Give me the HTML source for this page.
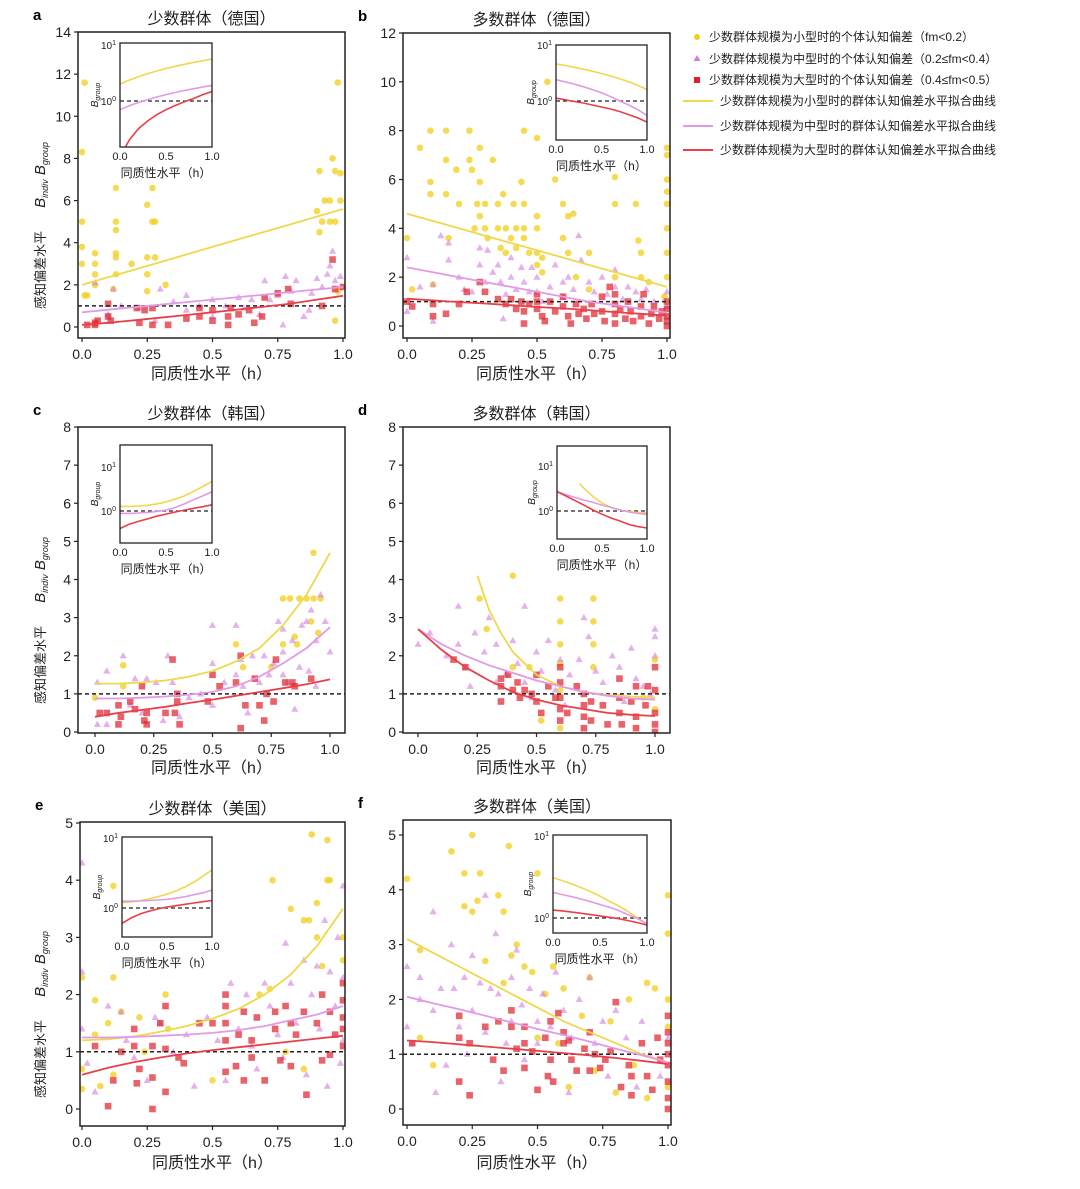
<!DOCTYPE html>
<html><head><meta charset="utf-8">
<style>
body{margin:0;background:#fff;}
svg{display:block;font-family:"Liberation Sans","Noto Sans CJK SC",sans-serif;}
</style></head>
<body>
<svg id="fig" width="1080" height="1189" viewBox="0 0 1080 1189" xmlns="http://www.w3.org/2000/svg">
<g id="legend" font-size="12" fill="#222">
  <g><circle cx="697" cy="37" r="3" fill="#f2cf1a"/><text x="709" y="41">少数群体规模为小型时的个体认知偏差（fm&lt;0.2）</text></g>
  <g><polygon points="697,55 700.5,61 693.5,61" fill="#d27fdc"/><text x="709" y="63">少数群体规模为中型时的个体认知偏差（0.2≤fm&lt;0.4）</text></g>
  <g><rect x="694" y="77" width="6" height="6" fill="#e0202a"/><text x="709" y="84">少数群体规模为大型时的个体认知偏差（0.4≤fm&lt;0.5）</text></g>
  <g><line x1="683" y1="101" x2="713" y2="101" stroke="#f0d84a" stroke-width="2"/><text x="720" y="105">少数群体规模为小型时的群体认知偏差水平拟合曲线</text></g>
  <g><line x1="683" y1="126" x2="713" y2="126" stroke="#e29ae6" stroke-width="2"/><text x="720" y="130">少数群体规模为中型时的群体认知偏差水平拟合曲线</text></g>
  <g><line x1="683" y1="150" x2="713" y2="150" stroke="#e8404a" stroke-width="2"/><text x="720" y="154">少数群体规模为大型时的群体认知偏差水平拟合曲线</text></g>
</g>
</svg>
<script>
// ---------- DATA ----------
const xTickLabels = ["0.0","0.25","0.5","0.75","1.0"];
const xTickVals = [0,0.25,0.5,0.75,1];
const hGrid = [0,0.1,0.2,0.3,0.4,0.5,0.6,0.7,0.8,0.9,1.0];

const aYTicks = [0,2,4,6,8,10,12,14];
const bYTicks = [0,2,4,6,8,10,12];
const cYTicks = [0,1,2,3,4,5,6,7,8];
const dYTicks = [0,1,2,3,4,5,6,7,8];
const eYTicks = [0,1,2,3,4,5];
const fYTicks = [0,1,2,3,4,5];

const aFitYellow = [2.0,2.36,2.72,3.08,3.44,3.8,4.16,4.52,4.88,5.24,5.6];
const aFitPink = [0.7,0.82,0.94,1.06,1.18,1.3,1.42,1.54,1.66,1.78,1.9];
const aFitRed = [0.1,0.2,0.32,0.44,0.57,0.7,0.83,0.97,1.11,1.3,1.48];
const bFitYellow = [4.6,4.3,4.0,3.7,3.4,3.1,2.8,2.5,2.2,1.9,1.6];
const bFitPink = [2.4,2.2,2.0,1.8,1.6,1.4,1.2,1.0,0.85,0.7,0.55];
const bFitRed = [1.12,1.05,0.98,0.92,0.85,0.78,0.72,0.65,0.57,0.5,0.42];
const cFitYellow = [1.27,1.27,1.3,1.35,1.45,1.6,1.85,2.2,2.8,3.6,4.7];
const cFitPink = [0.88,0.88,0.9,0.93,0.98,1.05,1.2,1.45,1.8,2.2,2.75];
const cFitRed = [0.4,0.5,0.58,0.66,0.76,0.85,0.95,1.05,1.15,1.25,1.38];
const dFitYellowH = [0.25,0.3,0.35,0.4,0.5,0.6,0.7,0.8,0.9,1.0];
const dFitYellow = [4.1,3.2,2.6,2.1,1.5,1.2,1.05,0.97,0.93,0.9];
const dFitPink = [2.7,2.3,2.0,1.75,1.55,1.35,1.2,1.05,0.95,0.88,0.85];
const dFitRed = [2.7,2.15,1.7,1.35,1.05,0.85,0.7,0.6,0.5,0.45,0.42];
const eFitYellow = [1.2,1.22,1.27,1.35,1.45,1.58,1.75,2.0,2.35,2.85,3.5];
const eFitPink = [1.25,1.25,1.26,1.28,1.3,1.33,1.38,1.45,1.55,1.65,1.8];
const eFitRed = [0.6,0.72,0.82,0.9,0.97,1.03,1.08,1.13,1.18,1.23,1.28];
const fFitYellow = [3.1,2.85,2.6,2.35,2.1,1.85,1.6,1.4,1.2,1.0,0.85];
const fFitPink = [2.05,1.93,1.82,1.7,1.58,1.46,1.35,1.23,1.1,0.98,0.85];
const fFitRed = [1.25,1.22,1.18,1.14,1.1,1.06,1.02,0.98,0.93,0.88,0.82];

const aYellow = [[0,8.3],[0,5],[0,3.8],[0,3],[0.01,1.5],[0.02,1.5],[0.01,11.6],[0.05,3.5],[0.05,3],[0.05,2.5],[0.05,2],[0.13,6.6],[0.13,5],[0.13,4.6],[0.13,3.5],[0.13,3.3],[0.13,2.5],[0.12,1.8],[0.19,3],[0.25,5.8],[0.25,3.3],[0.25,2.5],[0.25,1.7],[0.27,6.6],[0.27,5],[0.28,5],[0.28,3.3],[0.32,2],[0.9,5.5],[0.91,7.4],[0.91,4.5],[0.93,6],[0.95,6],[0.96,8],[0.97,7.4],[0.98,11.6],[0.99,7.3],[0.95,5],[0.97,5],[0.99,6],[0.97,0.3],[0.98,1.7],[0.92,5]];
const aPink = [[0.05,2.1],[0.1,0.6],[0.12,1.8],[0.15,1],[0.22,0.9],[0.28,0.3],[0.3,1.8],[0.35,1.2],[0.4,1.5],[0.4,0.8],[0.45,1],[0.5,1.3],[0.5,0.5],[0.55,1],[0.6,1.4],[0.62,0.9],[0.65,1.3],[0.68,0.6],[0.7,2.2],[0.72,1.3],[0.75,1.5],[0.77,0.1],[0.78,2.4],[0.8,1.7],[0.82,2.2],[0.85,0.5],[0.88,1.6],[0.9,2.3],[0.92,1.9],[0.94,2.5],[0.95,2.9],[0.96,3.6],[0.97,2.2],[0.99,2.4],[0.87,0.8]];
const aRed = [[0.02,0.1],[0.05,0.2],[0.05,0.1],[0.06,0.3],[0.1,1.1],[0.1,0.5],[0.11,0.3],[0.21,0.9],[0.22,0.2],[0.24,0.8],[0.27,0.1],[0.27,0.9],[0.33,0.1],[0.4,0.4],[0.45,0.9],[0.45,0.5],[0.5,0.8],[0.5,0.3],[0.56,0.5],[0.56,0.1],[0.57,0.9],[0.6,0.6],[0.64,0.8],[0.66,0.2],[0.69,0.5],[0.7,1.4],[0.75,1.6],[0.79,1.8],[0.8,1.1],[0.92,1],[0.97,1.8],[1,1.9],[0.96,3.2]];

const bYellow = [[0,3.6],[0.02,1.5],[0.05,7.3],[0.09,8],[0.09,5.9],[0.09,5.4],[0.1,1.7],[0.15,8],[0.15,6.8],[0.15,5.4],[0.16,3.6],[0.19,6.4],[0.2,5],[0.24,8],[0.24,6.8],[0.25,6.4],[0.26,4],[0.27,5],[0.28,7.3],[0.28,5.9],[0.28,4.5],[0.3,5],[0.3,4],[0.31,3.6],[0.33,6.8],[0.35,5],[0.35,4],[0.36,3.2],[0.37,5.4],[0.38,4],[0.38,3],[0.4,3.6],[0.41,5],[0.42,4],[0.42,3.2],[0.44,5.9],[0.45,8],[0.45,5],[0.45,4],[0.45,3.6],[0.47,3],[0.5,7.7],[0.5,4.5],[0.5,4],[0.5,3],[0.5,2.5],[0.52,2.8],[0.52,2.2],[0.54,10],[0.57,6],[0.6,5],[0.6,3.6],[0.62,4.5],[0.62,3],[0.64,4.6],[0.65,2],[0.7,3],[0.7,1.5],[0.8,5],[0.8,6.1],[0.8,2],[0.88,5],[0.89,3.5],[0.9,3],[0.9,2],[0.93,1.8],[1,7.3],[1,7],[1,6],[1,5.5],[1,5],[1,4],[1,3],[1,2],[0.99,1.2]];
const bPink = [[0,2.8],[0,0.6],[0.05,1.6],[0.1,1.7],[0.1,0.2],[0.13,3.7],[0.16,3.4],[0.16,2.7],[0.2,2],[0.22,1.5],[0.25,1.4],[0.28,3.2],[0.28,2.5],[0.3,1.8],[0.31,3.1],[0.33,2.2],[0.35,2.5],[0.36,1.8],[0.37,0.3],[0.38,1.3],[0.4,2.8],[0.4,2],[0.42,1.5],[0.44,2.4],[0.45,1.8],[0.47,1.4],[0.48,2.4],[0.5,2],[0.5,1.4],[0.52,1],[0.55,1.6],[0.57,2.5],[0.6,1.8],[0.6,1.2],[0.62,2],[0.64,1.5],[0.66,3.7],[0.67,2.7],[0.7,1.8],[0.72,1.4],[0.75,2],[0.77,1.3],[0.8,2.3],[0.8,1.6],[0.83,1.1],[0.85,1.6],[0.88,1.4],[0.9,1.1],[0.92,1.5],[0.95,1],[1,1.4],[1,0.8]];
const bRed = [[0,1],[0.02,0.8],[0.1,0.9],[0.1,0.4],[0.15,0.5],[0.2,0.9],[0.23,1.4],[0.28,1.8],[0.3,1.4],[0.35,1.1],[0.38,0.9],[0.4,1.1],[0.42,0.7],[0.44,1],[0.45,0.1],[0.45,0.6],[0.47,0.9],[0.5,1.3],[0.5,1],[0.5,0.7],[0.52,0.4],[0.53,0.2],[0.55,1],[0.57,0.6],[0.6,1.2],[0.6,0.8],[0.62,0.4],[0.63,0.1],[0.65,0.9],[0.66,0.5],[0.68,0.7],[0.69,0.3],[0.71,0.9],[0.72,0.5],[0.75,1.2],[0.75,0.6],[0.76,0.2],[0.78,1.6],[0.8,1.3],[0.8,0.9],[0.8,0.5],[0.8,0.1],[0.82,0.7],[0.84,0.3],[0.85,1],[0.86,0.6],[0.87,0.2],[0.9,0.8],[0.9,0.4],[0.91,1.3],[0.93,0.1],[0.94,0.5],[0.95,0.8],[0.97,0.3],[0.98,0.6],[1,1],[1,0.7],[1,0.4],[1,0.2],[1,0]];

const cYellow = [[0,0.9],[0.12,1.75],[0.12,1.2],[0.6,2.3],[0.63,1.7],[0.75,1.7],[0.8,2.3],[0.8,3.5],[0.83,3.5],[0.85,2.5],[0.86,2.3],[0.87,3.5],[0.9,3.5],[0.93,4.7],[0.93,3.5],[0.95,2.6],[0.96,3.5],[0.92,2.9]];
const cPink = [[0.01,1.3],[0.01,0.2],[0.05,1.6],[0.05,0.2],[0.12,2],[0.15,0.7],[0.17,1.4],[0.2,0.5],[0.22,1.4],[0.26,1.3],[0.29,0.3],[0.31,2],[0.33,1.3],[0.36,0.4],[0.4,0.9],[0.45,1],[0.5,2.8],[0.5,1.8],[0.5,0.7],[0.55,1.3],[0.6,2.8],[0.6,1.5],[0.62,1.9],[0.63,1.2],[0.65,0.5],[0.67,2],[0.7,1.3],[0.72,2],[0.74,1.5],[0.76,1.8],[0.78,2.9],[0.8,2.7],[0.8,2.1],[0.8,1.5],[0.82,1.3],[0.84,2.4],[0.85,0.6],[0.87,1.7],[0.88,2.8],[0.9,2.9],[0.91,1.6],[0.92,3.2],[0.94,2.4],[0.96,3.6],[0.98,2.9],[1,2.1],[0.94,1.2]];
const cRed = [[0.02,0.5],[0.05,0.5],[0.1,0.7],[0.1,0.2],[0.11,0.4],[0.15,0.8],[0.17,0.6],[0.2,1.2],[0.21,0.3],[0.22,0.5],[0.22,0.2],[0.3,0.5],[0.33,1.9],[0.34,0.5],[0.35,0.8],[0.36,0.2],[0.35,1],[0.48,0.8],[0.5,1.5],[0.53,1.2],[0.6,1.3],[0.62,2],[0.62,0.1],[0.64,0.7],[0.68,1.4],[0.7,0.7],[0.72,0.3],[0.73,1],[0.76,0.8],[0.77,1.9],[0.81,1.3],[0.84,1.3],[0.85,1.2],[0.92,1.4]];

const dYellow = [[0.26,3.5],[0.29,2.7],[0.4,4.1],[0.4,1.7],[0.47,1.7],[0.52,0.3],[0.6,3.5],[0.6,2.9],[0.6,2.3],[0.6,1.8],[0.6,1.1],[0.6,0.1],[0.74,3.5],[0.74,2.9],[0.74,2.3],[0.74,1.7],[0.95,0.9],[1,0.6],[1,1.9]];
const dPink = [[0,2.3],[0.05,2.6],[0.12,2],[0.17,3.3],[0.17,2.3],[0.2,1.7],[0.22,1.2],[0.24,2.6],[0.28,2.1],[0.3,3],[0.33,2.3],[0.33,1.3],[0.37,1.5],[0.4,2.4],[0.42,1.8],[0.45,3.3],[0.45,1.3],[0.48,0.9],[0.5,2.1],[0.52,1.6],[0.55,2.4],[0.58,1.1],[0.6,1.9],[0.62,0.7],[0.64,1.5],[0.68,1.9],[0.7,3],[0.72,2.5],[0.75,1.6],[0.78,1.3],[0.82,2],[0.85,1.7],[0.87,0.8],[0.9,2.2],[0.92,1.4],[0.95,1.2],[0.98,1],[1,2.7],[1,2.5],[1,2]];
const dRed = [[0.15,1.9],[0.2,1.7],[0.35,1.4],[0.35,1.2],[0.35,0.8],[0.38,1.5],[0.4,1.1],[0.42,1.3],[0.43,0.9],[0.45,1.1],[0.48,1],[0.5,1.5],[0.5,0.8],[0.52,0.5],[0.55,1.2],[0.58,0.9],[0.6,1.7],[0.6,1.3],[0.6,0.9],[0.6,0.6],[0.6,0.3],[0.63,0.5],[0.67,1.2],[0.7,1],[0.7,0.7],[0.7,0.4],[0.7,0.1],[0.73,0.8],[0.73,0.3],[0.78,0.7],[0.8,0.2],[0.85,1.4],[0.85,0.9],[0.85,0.5],[0.86,0.2],[0.9,0.8],[0.92,1.2],[0.92,0.4],[0.92,0.1],[0.96,0.7],[0.97,1.2],[1,1.7],[1,1.1],[1,0.5],[1,0.2],[1,0]];

const eYellow = [[0,2.3],[0,0.7],[0,0.35],[0.05,1.9],[0.05,1.3],[0.07,0.4],[0.1,1.5],[0.12,2.3],[0.12,3.9],[0.12,0.6],[0.15,1.7],[0.22,1.6],[0.24,1],[0.32,2],[0.33,1.4],[0.5,0.5],[0.68,2],[0.72,2.1],[0.73,4],[0.78,1],[0.8,3.5],[0.85,3.3],[0.87,3.3],[0.88,4.8],[0.9,3.6],[0.9,3],[0.92,2.5],[0.94,4.7],[0.94,4],[0.95,4],[1,3],[1,2.6],[0.85,0.7]];
const ePink = [[0,4.3],[0,2.4],[0,1.4],[0.02,0.8],[0.05,0.3],[0.1,1.8],[0.15,1.7],[0.17,1.2],[0.2,0.9],[0.25,0.5],[0.28,1.6],[0.3,1.5],[0.35,1],[0.4,1.3],[0.43,0.4],[0.48,1.6],[0.52,1.2],[0.55,0.5],[0.57,2.2],[0.6,1.4],[0.63,2],[0.65,1.1],[0.67,0.7],[0.7,2.2],[0.72,1.8],[0.75,1.3],[0.77,0.9],[0.78,2.9],[0.8,2.2],[0.82,1.5],[0.85,2.6],[0.86,0.6],[0.88,2],[0.9,2.5],[0.91,1.4],[0.93,3.3],[0.94,0.4],[0.95,2.4],[0.97,1.8],[0.98,3],[1,3.9],[1,2.3],[1,1.2],[0.99,0.8]];
const eRed = [[0.05,1.1],[0.1,0.05],[0.12,0.5],[0.15,1],[0.2,1.4],[0.2,1.1],[0.21,0.45],[0.22,0.7],[0.27,1.1],[0.27,0.55],[0.27,0],[0.3,1.5],[0.32,1.8],[0.32,1.05],[0.32,0.3],[0.37,0.9],[0.39,0.8],[0.45,1.5],[0.5,1.5],[0.55,2],[0.55,1.8],[0.55,1.5],[0.55,1.2],[0.55,0.65],[0.59,0.75],[0.6,1.3],[0.62,1.7],[0.62,0.5],[0.65,1.2],[0.65,0.9],[0.67,1.6],[0.7,0.5],[0.74,1.7],[0.74,1.4],[0.76,0.85],[0.78,1.8],[0.8,1.5],[0.8,0.75],[0.82,1.3],[0.85,1.7],[0.86,0.25],[0.9,1.5],[0.92,2],[0.92,0.85],[0.95,1.7],[0.95,0.95],[0.97,1.3],[1,2.2],[1,1.9],[1,1.6],[1,1.4],[1,1.1]];

const fYellow = [[0,4.2],[0.05,2.9],[0.05,1.3],[0.1,0.8],[0.17,4.7],[0.22,4.3],[0.22,3.7],[0.25,5],[0.25,3.6],[0.27,3.8],[0.28,4.3],[0.3,2.7],[0.35,3.9],[0.37,3.6],[0.37,2.3],[0.39,4.8],[0.4,2.8],[0.42,3],[0.45,2.6],[0.48,2.5],[0.5,4.3],[0.5,1.3],[0.53,2.1],[0.56,2.6],[0.58,1.2],[0.6,2.2],[0.62,0.4],[0.67,1.7],[0.7,2.4],[0.72,0.7],[0.78,1.6],[0.8,0.3],[0.85,2],[0.87,0.8],[0.92,2.3],[0.95,2.2],[0.92,0.2],[1,3.9],[1,3.2],[1,2],[1,1.5],[1,0.4]];
const fPink = [[0,2.6],[0,1.5],[0.02,1.2],[0.05,2.4],[0.05,2],[0.1,3.6],[0.1,1.8],[0.11,0.3],[0.13,2.2],[0.15,0.8],[0.17,3],[0.18,2.2],[0.2,1.5],[0.22,2.4],[0.23,1],[0.25,2.8],[0.25,1.8],[0.28,2.3],[0.3,3.9],[0.3,1.4],[0.32,2.2],[0.34,3.2],[0.35,2.1],[0.36,0.5],[0.38,1.2],[0.4,2.4],[0.4,1.6],[0.42,2.9],[0.44,1.9],[0.45,0.9],[0.47,2.2],[0.5,1.6],[0.5,1.2],[0.52,2.1],[0.55,1.5],[0.57,2.5],[0.6,1.8],[0.62,0.3],[0.63,1.3],[0.66,2],[0.7,2.4],[0.72,1.2],[0.75,1.6],[0.77,0.6],[0.8,1.8],[0.84,1.3],[0.88,0.4],[0.9,1.6],[0.93,1],[0.97,0.6],[1,1.3]];
const fRed = [[0.02,1.2],[0.2,1.7],[0.2,1.3],[0.2,0.5],[0.24,1.2],[0.24,0.25],[0.3,1.5],[0.33,0.9],[0.35,1.6],[0.37,0.7],[0.4,1.8],[0.4,1.5],[0.42,1.1],[0.45,1.5],[0.45,1.2],[0.45,0.75],[0.48,1.05],[0.5,0.35],[0.53,1.3],[0.54,0.6],[0.55,1.6],[0.55,0.9],[0.56,0.5],[0.58,1.75],[0.6,1.4],[0.6,1.2],[0.62,1.25],[0.63,0.9],[0.65,0.7],[0.68,1.1],[0.7,1.4],[0.7,0.7],[0.72,1],[0.74,0.75],[0.76,0.9],[0.78,1.05],[0.8,1.95],[0.82,0.4],[0.85,0.8],[0.86,0.6],[0.86,0.25],[0.9,1.2],[0.92,0.6],[0.94,0.35],[0.96,1.3],[0.97,0.9],[1,1.7],[1,1.4],[1,1.2],[1,1],[1,0.8],[1,0.5],[1,0.2],[1,0]];

// ---------- LAYOUT ----------
const NS="http://www.w3.org/2000/svg";
const svg=document.getElementById('fig');
function mk(tag,attrs,parent){const e=document.createElementNS(NS,tag);for(const k in attrs)e.setAttribute(k,attrs[k]);(parent||svg).appendChild(e);return e;}
const COL={y:'#f2cf1a',p:'#d27fdc',r:'#e0202a'};
const LCOL={y:'#f0d84a',p:'#e29ae6',r:'#e8404a'};

const panels=[
 {id:'a',letter:'a',title:'少数群体（德国）',box:[78,32,345,338],x0:82,x1:343,yv0:0,yp0:327,yv1:14,yp1:32,yTicks:aYTicks,
  pts:[aYellow,aPink,aRed],fits:[[hGrid,aFitYellow],[hGrid,aFitPink],[hGrid,aFitRed]],ylab:true,xtY:379,
  inset:{box:[120,43,212,147],top:1.04,bot:-0.82,d1:45,d0:101}},
 {id:'b',letter:'b',title:'多数群体（德国）',box:[403,33,670,338],x0:407,x1:667,yv0:0,yp0:326,yv1:12,yp1:33,yTicks:bYTicks,
  pts:[bYellow,bPink,bRed],fits:[[hGrid,bFitYellow],[hGrid,bFitPink],[hGrid,bFitRed]],ylab:false,xtY:379,
  inset:{box:[556,45,647,140],top:1.0,bot:-0.7,d1:45,d0:101}},
 {id:'c',letter:'c',title:'少数群体（韩国）',box:[78,427,345,733],x0:95,x1:330,yv0:0,yp0:732,yv1:8,yp1:427,yTicks:cYTicks,
  pts:[cYellow,cPink,cRed],fits:[[hGrid,cFitYellow],[hGrid,cFitPink],[hGrid,cFitRed]],ylab:true,xtY:773,
  inset:{box:[120,445,212,543],top:1.5,bot:-0.73,d1:467,d0:511}},
 {id:'d',letter:'d',title:'多数群体（韩国）',box:[403,427,670,733],x0:418,x1:655,yv0:0,yp0:732,yv1:8,yp1:427,yTicks:dYTicks,
  pts:[dYellow,dPink,dRed],fits:[[dFitYellowH,dFitYellow],[hGrid,dFitPink],[hGrid,dFitRed]],ylab:false,xtY:773,
  inset:{box:[557,446,647,539],top:1.45,bot:-0.64,d1:466,d0:511}},
 {id:'e',letter:'e',title:'少数群体（美国）',box:[80,822,345,1126],x0:82,x1:343,yv0:0,yp0:1109,yv1:5,yp1:823,yTicks:eYTicks,
  pts:[eYellow,ePink,eRed],fits:[[hGrid,eFitYellow],[hGrid,eFitPink],[hGrid,eFitRed]],ylab:true,xtY:1168,
  inset:{box:[122,837,212,937],top:1.01,bot:-0.41,d1:838,d0:908}},
 {id:'f',letter:'f',title:'多数群体（美国）',box:[403,820,671,1125],x0:407,x1:668,yv0:0,yp0:1109,yv1:5,yp1:835,yTicks:fYTicks,
  pts:[fYellow,fPink,fRed],fits:[[hGrid,fFitYellow],[hGrid,fFitPink],[hGrid,fFitRed]],ylab:false,xtY:1168,
  inset:{box:[553,835,647,933],top:1.01,bot:-0.18,d1:836,d0:918}}
];
const keys=['y','p','r'];
const sNames=['small','medium','large'];

panels.forEach(P=>{
  const g=mk('g',{});
  
  
  const [bx0,by0,bx1,by1]=P.box;
  const X=h=>P.x0+(P.x1-P.x0)*h;
  const Y=v=>P.yp0+(P.yp1-P.yp0)*(v-P.yv0)/(P.yv1-P.yv0);
  const cp=mk('clipPath',{id:'clip-'+P.id},g);
  mk('rect',{x:bx0,y:by0,width:bx1-bx0,height:by1-by0},cp);
  // letter & title
  const lt=mk('text',{x:bx0-45,y:by0-12,'font-size':15,'font-weight':'bold'},g);
  
  
  lt.textContent=P.letter;
  const tt=mk('text',{x:(bx0+bx1)/2,y:by0-8,'font-size':16,'text-anchor':'middle',fill:'#222'},g);
  
  
  tt.textContent=P.title;
  // points
  const pg=mk('g',{'clip-path':'url(#clip-'+P.id+')'},g);
  
  
  [2,1,0].forEach(si=>{});
  [0,1,2].forEach(si=>{
    P.pts[si].forEach(([h,v])=>{
      const cx=X(h),cy=Y(v);let m;
      if(si===0) m=mk('circle',{cx,cy,r:3.3,fill:COL.y,'fill-opacity':0.75},pg);
      else if(si===1) m=mk('polygon',{points:`${cx},${cy-3.8} ${cx+3.6},${cy+2.6} ${cx-3.6},${cy+2.6}`,fill:COL.p,'fill-opacity':0.6},pg);
      else m=mk('rect',{x:cx-3.3,y:cy-3.3,width:6.6,height:6.6,fill:COL.r,'fill-opacity':0.7},pg);
      
      
    });
  });
  // dashed 1 line
  const dl=mk('line',{x1:bx0,x2:bx1,y1:Y(1),y2:Y(1),stroke:'#222','stroke-width':1.5,'stroke-dasharray':'4,3'},g);
  
  
  // fits
  P.fits.forEach((f,si)=>{
    const [hs,vs]=f;
    const d=hs.map((h,i)=>(i?'L':'M')+X(h).toFixed(1)+','+Y(vs[i]).toFixed(1)).join(' ');
    const pl=mk('path',{d,fill:'none',stroke:LCOL[keys[si]],'stroke-width':1.8,'clip-path':'url(#clip-'+P.id+')'},g);
    
    
  });
  // box
  const br=mk('rect',{x:bx0,y:by0,width:bx1-bx0,height:by1-by0,fill:'none',stroke:'#222','stroke-width':1.5},g);
  
  
  // y ticks
  const yg=mk('g',{'font-size':14,fill:'#222','text-anchor':'end'},g);
  
  
  P.yTicks.forEach(t=>{
    mk('line',{x1:bx0-4,x2:bx0,y1:Y(t),y2:Y(t),stroke:'#222','stroke-width':1.2},yg);
    const tx=mk('text',{x:bx0-7,y:Y(t)+5},yg);
    
    
    tx.textContent=t;
  });
  const xg=mk('g',{'font-size':14,fill:'#222','text-anchor':'middle'},g);
  
  
  xTickVals.forEach((t,i)=>{
    mk('line',{x1:X(t),x2:X(t),y1:by1,y2:by1+4,stroke:'#222','stroke-width':1.2},xg);
    const tx=mk('text',{x:X(t),y:by1+21},xg);
    
    
    tx.textContent=xTickLabels[i];
  });
  const xt=mk('text',{x:(bx0+bx1)/2,y:P.xtY,'font-size':16,'text-anchor':'middle',fill:'#222'},g);
  
  
  xt.textContent='同质性水平（h）';
  if(P.ylab){
    const cy=(by0+by1)/2+50;
    const yl=mk('text',{transform:`translate(45,${cy+35}) rotate(-90)`,'font-size':13,fill:'#222','text-anchor':'middle'},g);
    
    
    yl.textContent='感知偏差水平';
    const yb=mk('text',{transform:`translate(45,${cy-60}) rotate(-90)`,'font-size':15,fill:'#222','text-anchor':'middle','font-style':'italic'},g);
    
    
    yb.innerHTML='B<tspan font-size="9" dy="3">indiv</tspan><tspan dy="-3"> B</tspan><tspan font-size="9" dy="3">group</tspan>';
  }
  // inset
  const I=P.inset;const [ix0,iy0,ix1,iy1]=I.box;
  const ig=mk('g',{},g);
  
  
  const IX=h=>ix0+(ix1-ix0)*h;
  const IY=v=>I.d0+(I.d1-I.d0)*Math.log10(v);
  mk('rect',{x:ix0,y:iy0,width:ix1-ix0,height:iy1-iy0,fill:'#fff'},ig);
  const icp=mk('clipPath',{id:'iclip-'+P.id},ig);
  mk('rect',{x:ix0,y:iy0,width:ix1-ix0,height:iy1-iy0},icp);
  mk('line',{x1:ix0,x2:ix1,y1:IY(1),y2:IY(1),stroke:'#222','stroke-width':1.3,'stroke-dasharray':'4,3'},ig);
  P.fits.forEach((f,si)=>{
    const [hs,vs]=f;
    const d=hs.map((h,i)=>(i?'L':'M')+IX(h).toFixed(1)+','+IY(vs[i]).toFixed(1)).join(' ');
    const pl=mk('path',{d,fill:'none',stroke:LCOL[keys[si]],'stroke-width':1.6,'clip-path':'url(#iclip-'+P.id+')'},ig);
    
    
  });
  mk('rect',{x:ix0,y:iy0,width:ix1-ix0,height:iy1-iy0,fill:'none',stroke:'#222','stroke-width':1.3},ig);
  [[1,I.d1],[0,I.d0]].forEach(([e,yy])=>{
    const t=mk('text',{x:ix0-4,y:yy+4,'font-size':10,'text-anchor':'end',fill:'#222'},ig);
    t.innerHTML='10<tspan font-size="7" dy="-4">'+e+'</tspan>';
  });
  ['0.0','0.5','1.0'].forEach((s,i)=>{
    const t=mk('text',{x:IX(i/2),y:iy1+13,'font-size':11,'text-anchor':'middle',fill:'#222'},ig);
    t.textContent=s;
  });
  const it=mk('text',{x:(ix0+ix1)/2,y:iy1+30,'font-size':12,'text-anchor':'middle',fill:'#222'},ig);
  it.textContent='同质性水平（h）';
  const iyl=mk('text',{transform:`translate(${ix0-22},${(iy0+iy1)/2}) rotate(-90)`,'font-size':10,'font-style':'italic','text-anchor':'middle',fill:'#222'},ig);
  iyl.innerHTML='B<tspan font-size="7" dy="2">group</tspan>';
});
</script>
</body></html>
